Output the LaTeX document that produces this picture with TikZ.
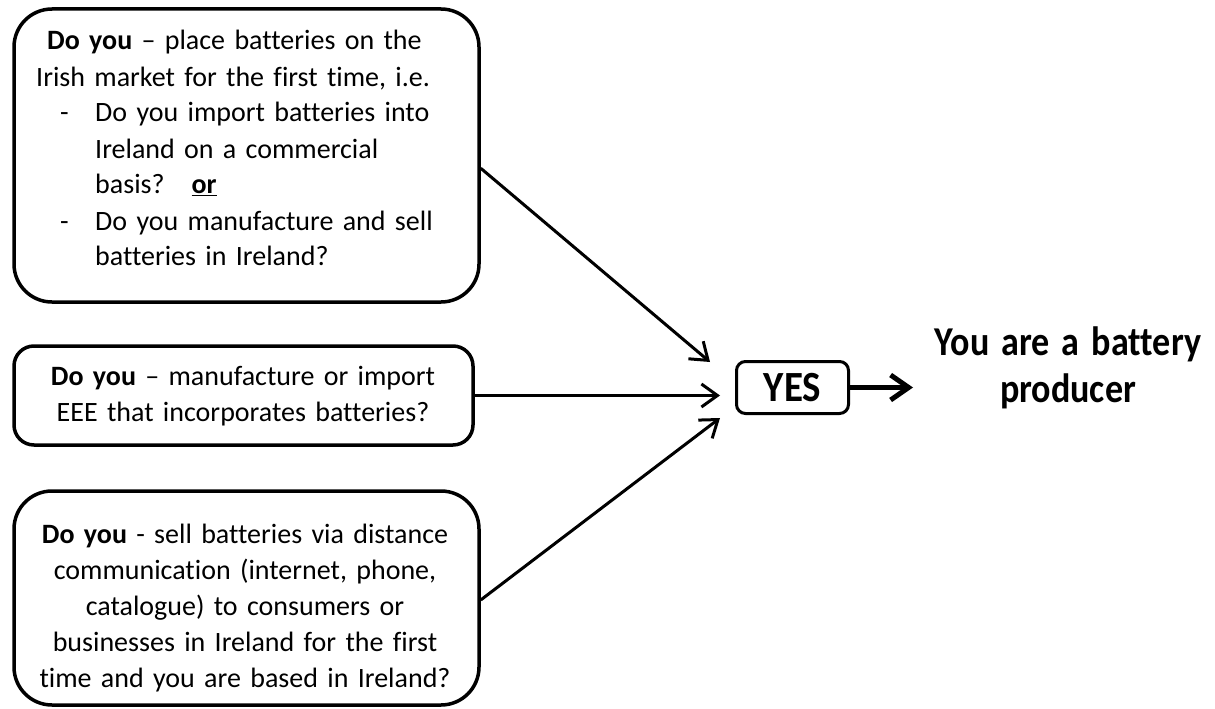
\documentclass[tikz,border=0pt]{standalone}
\usepackage{fontspec}
\usepackage{graphicx}
\setmainfont{Carlito}[Ligatures=NoCommon]
\usetikzlibrary{arrows.meta,calc}
\begin{document}
\begin{tikzpicture}[x=1pt,y=-1pt,
  qbox/.style={draw, line width=3.5pt, inner sep=0pt},
  qtext/.style={inner sep=0pt, text width=450pt, font=\fontsize{28}{36}\selectfont},
  conn/.style={line width=3pt, -{Straight Barb[length=16pt,width=23pt]}},
  connbig/.style={line width=5pt, -{Straight Barb[length=18pt,width=25pt]}},
]
\useasboundingbox (0,0) rectangle (1215,709);

% boxes
\node[qbox, rounded corners=38pt, minimum width=465pt, minimum height=293pt] (box1) at (246.5,155.5) {};
\node[qbox, rounded corners=20pt, minimum width=459pt, minimum height=99pt] (box2) at (243.5,395.5) {};
\node[qbox, rounded corners=38pt, minimum width=465pt, minimum height=214pt] (box3) at (246.5,598) {};
\node[draw, line width=3pt, rounded corners=9pt, minimum width=112pt, minimum height=52pt, inner sep=0pt,
      font=\fontsize{41}{48}\selectfont\bfseries] (yes) at (792.5,387.5) {\scalebox{0.95}[1.05]{YES}};

% texts
\node[qtext, anchor=base west, align=left] (t1) at (36,50) {%
\hspace*{11pt}\textbf{Do you} – place batteries on the\\
Irish market for the first time, i.e.\\
\makebox[59pt][l]{\hspace*{24pt}-}Do you import batteries into\\
\hspace*{59pt}Ireland on a commercial\\
\hspace*{59pt}basis?\hspace*{27pt}\textbf{\underline{or}}\\
\makebox[59pt][l]{\hspace*{24pt}-}Do you manufacture and sell\\
\hspace*{59pt}batteries in Ireland?};

\node[qtext, anchor=base, align=center] (t2) at (243,385) {%
\textbf{Do you} – manufacture or import\\
EEE that incorporates batteries?};

\node[qtext, anchor=base, align=center] (t3) at (245,543) {%
\textbf{Do you} - sell batteries via distance\\
communication (internet, phone,\\
catalogue) to consumers or\\
businesses in Ireland for the first\\
time and you are based in Ireland?};

\node[anchor=base, inner sep=0pt, text width=340pt, align=center,
      font=\fontsize{41}{47}\selectfont\bfseries] (res) at (1068,355) {%
\scalebox{0.88}[1]{You are a battery}\\
\scalebox{0.88}[1]{producer}};

% connectors
\coordinate (p1) at (710,362);
\coordinate (p2) at (720,395.5);
\coordinate (p3) at (720,418);
\coordinate (p4) at (913,387.5);
\draw[conn] ($(box1.north east)!0.543!(box1.south east)$) -- (p1);
\draw[conn] (box2.east) -- (p2);
\draw[conn] ($(box3.north east)!0.509!(box3.south east)$) -- (p3);
\draw[connbig] (yes.east) -- (p4);
\end{tikzpicture}
\end{document}
